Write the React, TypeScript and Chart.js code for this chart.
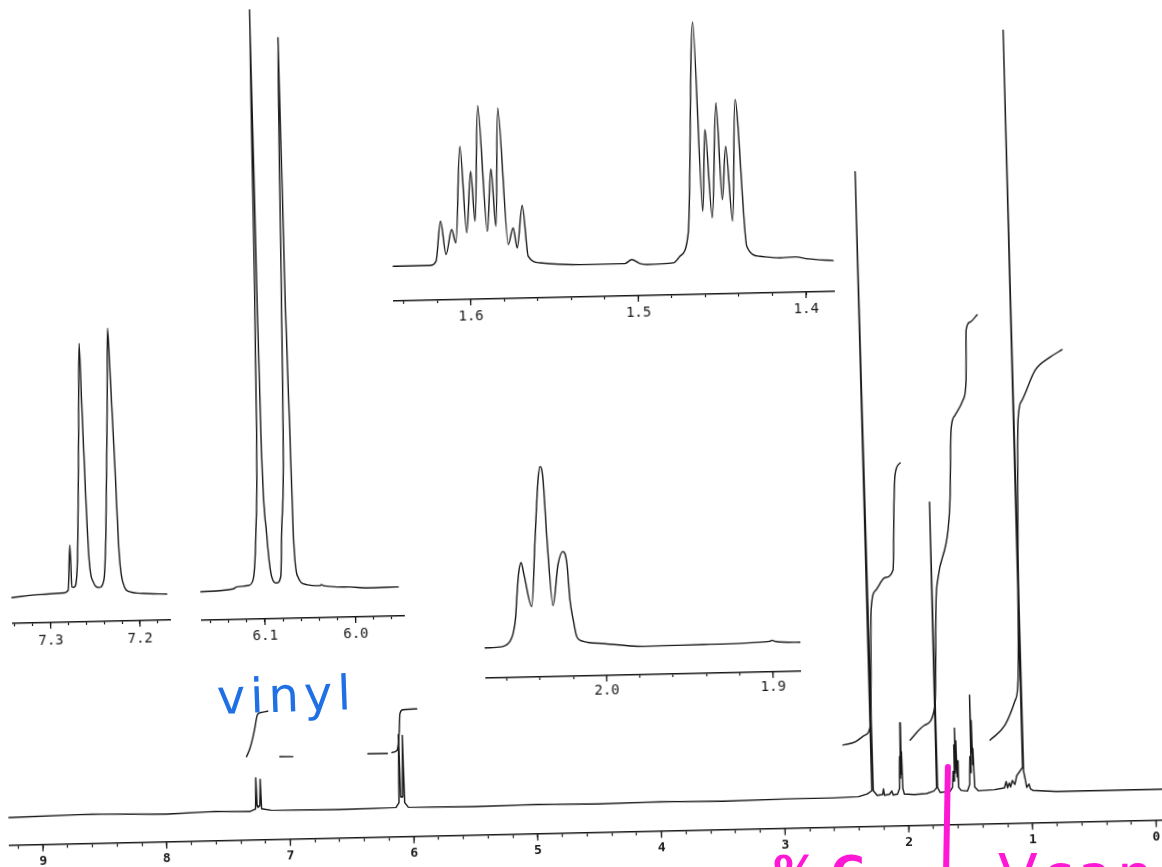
import React, { useEffect, useRef } from 'react';
import { Chart, registerables } from 'chart.js';

Chart.register(...registerables);

const INK = '#181818';

// ---------------- main spectrum (ppm, relative intensity) ----------------
const MAIN_LABELS = ['9', '8', '7', '6', '5', '4', '3', '2', '1', '0'];
const MAIN_PPM = [
  9.27, 8.6, 8.0, 7.6, 7.32, 7.275, 7.268, 7.262, 7.255, 7.24, 7.233, 7.226, 7.15, 6.6,
  6.14, 6.115, 6.108, 6.1, 6.084, 6.077, 6.069, 6.04, 5.5, 5.0, 4.5, 4.0, 3.5, 3.0, 2.6, 2.4,
  2.33, 2.292, 2.318, 2.28, 2.25, 2.205, 2.198, 2.19, 2.15, 2.13, 2.12, 2.085, 2.068, 2.062,
  2.058, 2.054, 2.05, 2.046, 2.041, 2.03, 1.95, 1.85, 1.79, 1.768, 1.775, 1.76, 1.74, 1.66,
  1.64, 1.632, 1.628, 1.622, 1.618, 1.614, 1.61, 1.605, 1.6, 1.596, 1.59, 1.57, 1.52, 1.5,
  1.494, 1.49, 1.486, 1.481, 1.477, 1.472, 1.468, 1.46, 1.43, 1.3, 1.22, 1.205, 1.195, 1.18,
  1.17, 1.155, 1.135, 1.118, 1.07, 1.097, 1.062, 1.05, 1.04, 1.02, 1.01, 0.99, 0.8, 0.5, 0.2,
  0.0, -0.11,
];
const MAIN_INT = [
  0.0, 0.2, 0.0, 0.2, 0.1, 0.4, 4.3, 0.8, 0.6, 0.8, 4.1, 0.4, 0.2, 0.1,
  0.2, 0.8, 9.3, 1.5, 1.5, 9.2, 0.8, 0.2, 0.1, 0.2, 0.1, 0.2, 0.1, 0.2, 0.2, 0.3,
  0.6, 1.0, 78.4, 1.0, 0.4, 0.5, 1.2, 0.4, 0.5, 0.9, 0.4, 0.5, 1.2, 5.2,
  2.5, 9.4, 3.0, 5.8, 1.2, 0.5, 0.4, 0.5, 0.8, 1.2, 36.9, 1.2, 0.6, 0.7,
  1.2, 3.2, 2.0, 6.5, 3.0, 8.6, 3.5, 7.0, 2.5, 4.5, 1.2, 0.8, 0.7, 1.5,
  5.0, 3.0, 12.7, 5.5, 9.5, 4.0, 6.0, 1.2, 0.7, 0.8, 1.0, 1.8, 1.0, 1.6,
  1.1, 1.9, 1.4, 2.5, 3.5, 95.7, 3.0, 2.0, 1.0, 1.4, 0.8, 0.6, 0.4, 0.4, 0.4,
  0.4, 0.4,
];

// integral traces drawn over the main spectrum
const INTEG_VINYL_PPM = [7.339, 7.311, 7.285, 7.267, 7.243, 7.209, 7.159];
const INTEG_VINYL_VAL = [6.96, 7.94, 9.3, 10.5, 12.2, 12.45, 12.6];
const INTEG_VINYL_TAIL_PPM = [7.07, 6.965];
const INTEG_VINYL_TAIL_VAL = [6.87, 6.83];
const INTEG_OLEFIN_LEAD_PPM = [6.358, 6.2];
const INTEG_OLEFIN_LEAD_VAL = [7.0, 6.96];
const INTEG_OLEFIN_PPM = [6.164, 6.123, 6.1, 6.092, 6.068, 5.955];
const INTEG_OLEFIN_VAL = [7.08, 7.3, 9.8, 11.9, 12.4, 12.47];
const INTEG_A_PPM = [2.517, 2.419, 2.337, 2.295, 2.281, 2.266, 2.222, 2.148, 2.082, 2.061, 2.049, 2.006];
const INTEG_A_VAL = [6.79, 7.13, 7.98, 8.96, 13.6, 23.6, 26.1, 27.6, 28.5, 37.3, 40.4, 41.9];
const INTEG_B_PPM = [1.974, 1.853, 1.766, 1.739, 1.72, 1.63, 1.609, 1.588, 1.553, 1.486, 1.458, 1.449, 1.416, 1.357];
const INTEG_B_VAL = [7.23, 9.06, 11.5, 24.7, 27.4, 33.4, 37.1, 45.9, 47.7, 49.6, 52.1, 58.3, 59.3, 60.2];
const INTEG_C_PPM = [1.328, 1.204, 1.118, 1.091, 1.045, 1.009, 0.898, 0.775, 0.677];
const INTEG_C_VAL = [7.0, 8.85, 11.9, 14.4, 46.9, 49.4, 53.1, 54.7, 55.6];

// ---------------- expansion insets ----------------
const INSET_A_LABELS = ['7.3', '7.2'];
const INSET_A_PPM = [
  7.3431, 7.3113, 7.2833, 7.2795, 7.2765, 7.2753, 7.273, 7.2688, 7.264, 7.2612, 7.2599, 7.2575,
  7.2553, 7.2513, 7.2447, 7.2393, 7.2359, 7.2312, 7.229, 7.227, 7.2242, 7.2217, 7.2177, 7.2104,
  7.1956, 7.1694,
];
const INSET_A_INT = [
  0.0, 2.6, 3.7, 6.3, 51.3, 9.5, 8.9, 29.4, 163.1, 252.8, 196.0, 95.9,
  35.9, 14.1, 8.3, 15.5, 62.5, 195.5, 267.2, 212.1, 128.6, 45.2, 11.8, 3.3,
  1.4, 0.2,
];

const INSET_B_LABELS = ['6.1', '6.0'];
const INSET_B_PPM = [
  6.1706, 6.1342, 6.1304, 6.1176, 6.112, 6.1079, 6.1047, 6.1035, 6.1024, 6.101, 6.1, 6.0961,
  6.0916, 6.0862, 6.0815, 6.0795, 6.0754, 6.074, 6.0717, 6.07, 6.068, 6.0667, 6.0629, 6.0532,
  6.0386, 6.0367, 6.0345, 6.0055, 5.9871, 5.9523,
];
const INSET_B_INT = [
  0.0, 2.2, 4.1, 5.2, 11.1, 57.7, 157.7, 300, 581.1, 300, 157.6, 57.5,
  13.9, 7.2, 13.5, 57.1, 157.1, 300, 552.5, 290, 157, 56.9, 13.4, 4.9,
  3.6, 4.6, 3.4, 1.6, 0.3, 0.6,
];

const INSET_C_LABELS = ['2.0', '1.9'];
const INSET_C_PPM = [
  2.0728, 2.0618, 2.0577, 2.0556, 2.0539, 2.0531, 2.0517, 2.05, 2.0484, 2.0442, 2.0413, 2.0387,
  2.0374, 2.0357, 2.0341, 2.0314, 2.0278, 2.0247, 2.0224, 2.0211, 2.0194, 2.0175, 2.0136, 2.0016,
  1.9776, 1.9415, 1.9014, 1.9003, 1.8978, 1.8823,
];
const INSET_C_INT = [
  1.4, 2.6, 7.5, 15.8, 32.4, 49.1, 74.0, 86.0, 73.9, 41.7, 108.7, 168.6,
  181.6, 168.5, 108.4, 42.3, 83.2, 96.1, 83.0, 47.9, 27.8, 11.0, 5.9, 3.2,
  -0.4, 0.0, 1.8, 2.8, 1.4, 0.1,
];

const INSET_D_LABELS = ['1.6', '1.5', '1.4'];
const INSET_D_PPM = [
  1.6457, 1.6239, 1.6202, 1.6169, 1.6141, 1.6104, 1.6081, 1.6044, 1.6015, 1.5983, 1.5964, 1.5933,
  1.5892, 1.5862, 1.584, 1.5814, 1.5769, 1.5737, 1.5716, 1.568, 1.5651, 1.5582, 1.5343, 1.5075,
  1.5035, 1.4986, 1.4946, 1.4787, 1.4747, 1.4694, 1.464, 1.4605, 1.4581, 1.4549, 1.4512, 1.4487,
  1.446, 1.4428, 1.4398, 1.4347, 1.427, 1.415, 1.4061, 1.3982, 1.3833,
];
const INSET_D_INT = [
  1.8, 1.7, 5.6, 45.7, 12.3, 37.2, 23.8, 120.3, 33.6, 95.1, 45.0, 160.6,
  34.7, 97.1, 39.5, 157.9, 21.0, 37.6, 17.5, 59.7, 8.8, 2.0, -0.6, -0.6,
  3.3, -0.9, -2.0, -0.9, 5.5, 28.8, 239.3, 50.0, 131.7, 43.2, 158.2, 61.3,
  114.5, 39.4, 161.0, 14.1, 3.8, 1.8, 2.4, 0.1, -2.1,
];

// handwritten annotations on the sheet
const NOTE_VINYL = 'vinyl';
const NOTE_PINK_LEFT = '% C';
const NOTE_PINK_RIGHT = 'Vcan';

// ---------------- helpers ----------------
function stepTicks(from: number, to: number, step: number): number[] {
  const out: number[] = [];
  const n = Math.round((from - to) / step);
  for (let i = 0; i <= n; i++) out.push(Math.round((from - i * step) * 1000) / 1000);
  return out;
}

type LineSeries = { x: number[]; y: number[]; width: number; smooth: boolean };

interface PanelCfg {
  id: string;
  left: number;
  top: number;
  width: number;
  chartH: number;
  axisH: number;
  xMin: number;
  xMax: number;
  yMin: number;
  yMax: number;
  ticks: number[];
  labels: string[];
  font: { family: string; size: number; weight: any };
  minorLen: number;
  majorLen: number;
  pad: number;
  axisW: number;
  series: LineSeries[];
}

const majorTickPlugin = {
  id: 'majorTicks',
  afterDraw(chart: any, _args: any, opts: any) {
    const sc = chart.scales.x;
    if (!sc || !opts || !opts.values) return;
    const ctx = chart.ctx;
    ctx.save();
    ctx.strokeStyle = INK;
    ctx.lineWidth = opts.width;
    for (const v of opts.values as number[]) {
      const px = sc.getPixelForValue(v);
      ctx.beginPath();
      ctx.moveTo(px, sc.top);
      ctx.lineTo(px, sc.top + opts.length);
      ctx.stroke();
    }
    ctx.restore();
  },
};

function SpectrumPanel({ cfg }: { cfg: PanelCfg }) {
  const ref = useRef<HTMLCanvasElement>(null);
  useEffect(() => {
    const canvas = ref.current;
    if (!canvas) return;
    const labelled = cfg.labels.map((l) => parseFloat(l));
    const fmt = (v: number) => {
      const hit = labelled.findIndex((m) => Math.abs(m - v) < 1e-6);
      return hit >= 0 ? cfg.labels[hit] : '';
    };
    const chart = new Chart(canvas, {
      type: 'line',
      data: {
        datasets: cfg.series.map((s, i) => ({
          label: cfg.id + '-' + i,
          data: s.x.map((x, k) => ({ x, y: s.y[k] })),
          borderColor: INK,
          borderWidth: s.width,
          pointRadius: 0,
          fill: false,
          tension: 0,
          cubicInterpolationMode: s.smooth ? 'monotone' : 'default',
          borderJoinStyle: 'round',
          borderCapStyle: 'round',
          clip: false,
        })) as any,
      },
      options: {
        animation: false,
        responsive: false,
        devicePixelRatio: 1,
        events: [],
        layout: { padding: 0 },
        plugins: {
          legend: { display: false },
          tooltip: { enabled: false },
          majorTicks: { values: labelled, length: cfg.majorLen, width: 1.3 },
        } as any,
        scales: {
          x: {
            type: 'linear',
            reverse: true,
            min: cfg.xMin,
            max: cfg.xMax,
            afterBuildTicks: (sc: any) => {
              sc.ticks = cfg.ticks.map((v) => ({ value: v }));
            },
            afterFit: (sc: any) => {
              sc.height = cfg.axisH;
              sc.paddingLeft = 0;
              sc.paddingRight = 0;
            },
            border: { display: true, color: INK, width: cfg.axisW },
            grid: {
              display: true,
              drawOnChartArea: false,
              drawTicks: true,
              tickLength: cfg.minorLen,
              color: INK,
              tickColor: INK,
              tickWidth: 1.2,
            },
            ticks: {
              autoSkip: false,
              maxRotation: 0,
              minRotation: 0,
              padding: cfg.pad,
              color: INK,
              font: cfg.font,
              callback: (v: any) => fmt(Number(v)),
            },
          } as any,
          y: { type: 'linear', display: false, min: cfg.yMin, max: cfg.yMax },
        },
      },
      plugins: [majorTickPlugin as any],
    });
    return () => chart.destroy();
  }, [cfg]);
  const h = cfg.chartH + cfg.axisH;
  return (
    <canvas
      ref={ref}
      width={cfg.width}
      height={h}
      style={{ position: 'absolute', left: cfg.left, top: cfg.top, width: cfg.width, height: h }}
    />
  );
}

// ---------------- layout of the (un-rotated) chart sheet ----------------
const MONO = 'DejaVu Sans Mono';

function insetCfg(
  id: string,
  left: number,
  right: number,
  refPpm: number,
  refX: number,
  pxPerPpm: number,
  axisY: number,
  chartH: number,
  gap: number,
  tickFrom: number,
  tickTo: number,
  labels: string[],
  ppm: number[],
  val: number[],
  pad: number,
): PanelCfg {
  const width = right - left;
  return {
    id,
    left,
    top: axisY - chartH,
    width,
    chartH,
    axisH: 30,
    xMax: refPpm + (refX - left) / pxPerPpm,
    xMin: refPpm - (right - refX) / pxPerPpm,
    yMin: -gap,
    yMax: chartH - gap,
    ticks: stepTicks(tickFrom, tickTo, 0.02),
    labels,
    font: { family: MONO, size: 14, weight: 'normal' },
    minorLen: 3,
    majorLen: 6,
    pad,
    axisW: 1.4,
    series: [{ x: ppm, y: val, width: 1.4, smooth: true }],
  };
}

const MAIN_PX_PER_PPM = 123.72;
const MAIN_X9 = 34.05;
const MAIN_AXIS_Y = 832.5;
const MAIN_UNIT = 8;
const MAIN_GAP = 27.5;

const MAIN_CFG: PanelCfg = {
  id: 'main',
  left: 0,
  top: 0,
  width: 1162,
  chartH: MAIN_AXIS_Y,
  axisH: 867 - MAIN_AXIS_Y,
  xMax: 9 + MAIN_X9 / MAIN_PX_PER_PPM,
  xMin: 9 - (1162 - MAIN_X9) / MAIN_PX_PER_PPM,
  yMin: -MAIN_GAP / MAIN_UNIT,
  yMax: (MAIN_AXIS_Y - MAIN_GAP) / MAIN_UNIT,
  ticks: stepTicks(9.2, 0, 0.2),
  labels: MAIN_LABELS,
  font: { family: MONO, size: 13, weight: 'bold' },
  minorLen: 4,
  majorLen: 7,
  pad: 5,
  axisW: 1.5,
  series: [
    { x: MAIN_PPM, y: MAIN_INT, width: 1.4, smooth: false },
    { x: INTEG_VINYL_PPM, y: INTEG_VINYL_VAL, width: 1.4, smooth: true },
    { x: INTEG_VINYL_TAIL_PPM, y: INTEG_VINYL_TAIL_VAL, width: 1.4, smooth: false },
    { x: INTEG_OLEFIN_LEAD_PPM, y: INTEG_OLEFIN_LEAD_VAL, width: 1.4, smooth: false },
    { x: INTEG_OLEFIN_PPM, y: INTEG_OLEFIN_VAL, width: 1.4, smooth: true },
    { x: INTEG_A_PPM, y: INTEG_A_VAL, width: 1.4, smooth: true },
    { x: INTEG_B_PPM, y: INTEG_B_VAL, width: 1.4, smooth: true },
    { x: INTEG_C_PPM, y: INTEG_C_VAL, width: 1.4, smooth: true },
  ],
};

const INSETS: PanelCfg[] = [
  insetCfg('a', 8, 167, 7.3, 46.6, 893, 611.3, 300, 25.8, 7.34, 7.18, INSET_A_LABELS, INSET_A_PPM, INSET_A_INT, 7),
  insetCfg('b', 197, 401, 6.1, 260.95, 907, 612.3, 610, 28.5, 6.16, 5.96, INSET_B_LABELS, INSET_B_PPM, INSET_B_INT, 6),
  insetCfg('c', 480, 796, 2.0, 601.4, 1663, 676.3, 230, 28.8, 2.06, 1.9, INSET_C_LABELS, INSET_C_PPM, INSET_C_INT, 4),
  insetCfg('d', 396, 838, 1.6, 473.6, 1677, 297.1, 290, 33, 1.64, 1.4, INSET_D_LABELS, INSET_D_PPM, INSET_D_INT, 6),
];

const PINK = '#ff17d6';

export default function App() {
  return (
    <div
      style={{
        position: 'absolute',
        left: 0,
        top: 0,
        width: 1162,
        height: 867,
        overflow: 'hidden',
        background: '#ffffff',
      }}
    >
      <div
        style={{
          position: 'absolute',
          left: 0,
          top: 0,
          width: 1162,
          height: 867,
          transform: 'rotate(-1.25deg)',
          transformOrigin: '581px 433.5px',
        }}
      >
        <SpectrumPanel cfg={MAIN_CFG} />
        {INSETS.map((c) => (
          <SpectrumPanel key={c.id} cfg={c} />
        ))}
      </div>
      <div
        style={{
          position: 'absolute',
          left: 217,
          top: 673,
          fontFamily: 'DejaVu Sans',
          fontSize: 48,
          lineHeight: '48px',
          letterSpacing: 5,
          color: '#1f6fe5',
          whiteSpace: 'nowrap',
          transform: 'rotate(-2deg)',
          transformOrigin: '0 30px',
        }}
      >
        {NOTE_VINYL}
      </div>
      <div
        style={{
          position: 'absolute',
          left: 944,
          top: 764,
          width: 6,
          height: 110,
          background: PINK,
          borderRadius: 3,
          transform: 'rotate(1deg)',
        }}
      />
      <div
        style={{
          position: 'absolute',
          left: 773,
          top: 850,
          fontFamily: 'DejaVu Sans',
          fontWeight: 'bold',
          fontSize: 46,
          lineHeight: '46px',
          letterSpacing: -2,
          color: PINK,
          whiteSpace: 'nowrap',
        }}
      >
        {NOTE_PINK_LEFT}
      </div>
      <div
        style={{
          position: 'absolute',
          left: 998,
          top: 847,
          fontFamily: 'DejaVu Sans',
          fontSize: 58,
          lineHeight: '58px',
          letterSpacing: 4,
          color: PINK,
          whiteSpace: 'nowrap',
        }}
      >
        {NOTE_PINK_RIGHT}
      </div>
    </div>
  );
}
